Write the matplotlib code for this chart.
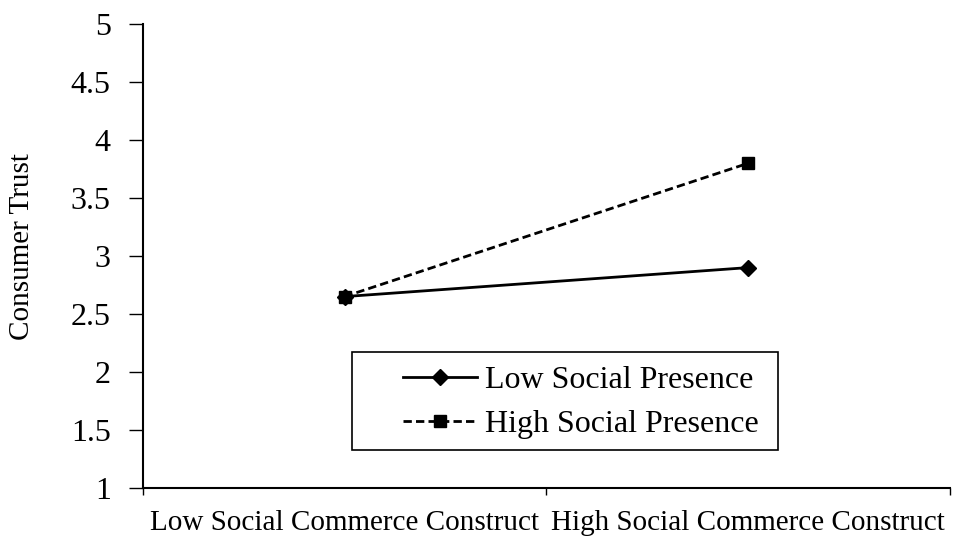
import matplotlib
matplotlib.use("Agg")
import matplotlib.pyplot as plt
from matplotlib.patches import Rectangle
import numpy as np

### data
categories = ["Low Social Commerce Construct", "High Social Commerce Construct"]
low_presence = [2.65, 2.9]
high_presence = [2.65, 3.8]
yticks = [1, 1.5, 2, 2.5, 3, 3.5, 4, 4.5, 5]
ytick_labels = ["1", "1.5", "2", "2.5", "3", "3.5", "4", "4.5", "5"]

plt.rcParams.update({'font.family': ['Liberation Serif', 'DejaVu Serif']})

fig = plt.figure(figsize=(9.57, 5.45), dpi=100)
ax = fig.add_axes([0.149, 0.1046, 0.844, 0.8514])

x = np.arange(len(categories)) + 0.5
ax.plot(x, low_presence, '-', color='black', lw=2, marker='D', markersize=8,
        label='Low Social Presence')
ax.plot(x, high_presence, '--', color='black', lw=2, marker='s', markersize=9,
        dashes=(3, 1.5), label='High Social Presence')

ax.set_xlim(0, len(categories))
ax.set_ylim(1, 5)
ax.set_yticks(yticks)
ax.set_yticklabels(ytick_labels, fontsize=23)
ax.set_xticks(np.arange(len(categories) + 1))
ax.set_xticklabels([])
ax.set_xticks(x, minor=True)
ax.set_xticklabels(categories, minor=True, fontsize=21)
ax.tick_params(axis='x', which='minor', length=0, pad=16)
ax.tick_params(axis='x', which='major', length=5, width=1, direction='out')
ax.tick_params(axis='y', length=10, width=1, direction='out', pad=13)

for s in ['top', 'right']:
    ax.spines[s].set_visible(False)
for s in ['left', 'bottom']:
    ax.spines[s].set_linewidth(1.5)

ax.set_ylabel("Consumer Trust", fontsize=21)
ax.yaxis.set_label_coords(-0.133, 0.52)

# legend box drawn separately so the entries can sit inset from the frame
ax.add_patch(Rectangle((0.259, 0.082), 0.528, 0.211, transform=ax.transAxes,
                       fill=False, edgecolor='black', lw=1.2, clip_on=False))
leg = ax.legend(loc='center left', bbox_to_anchor=(0.323, 0.185),
                fontsize=23, frameon=False, handlelength=2.3,
                handletextpad=0.25, borderpad=0, labelspacing=0.45,
                borderaxespad=0)

fig.savefig("out.png", dpi=100)
